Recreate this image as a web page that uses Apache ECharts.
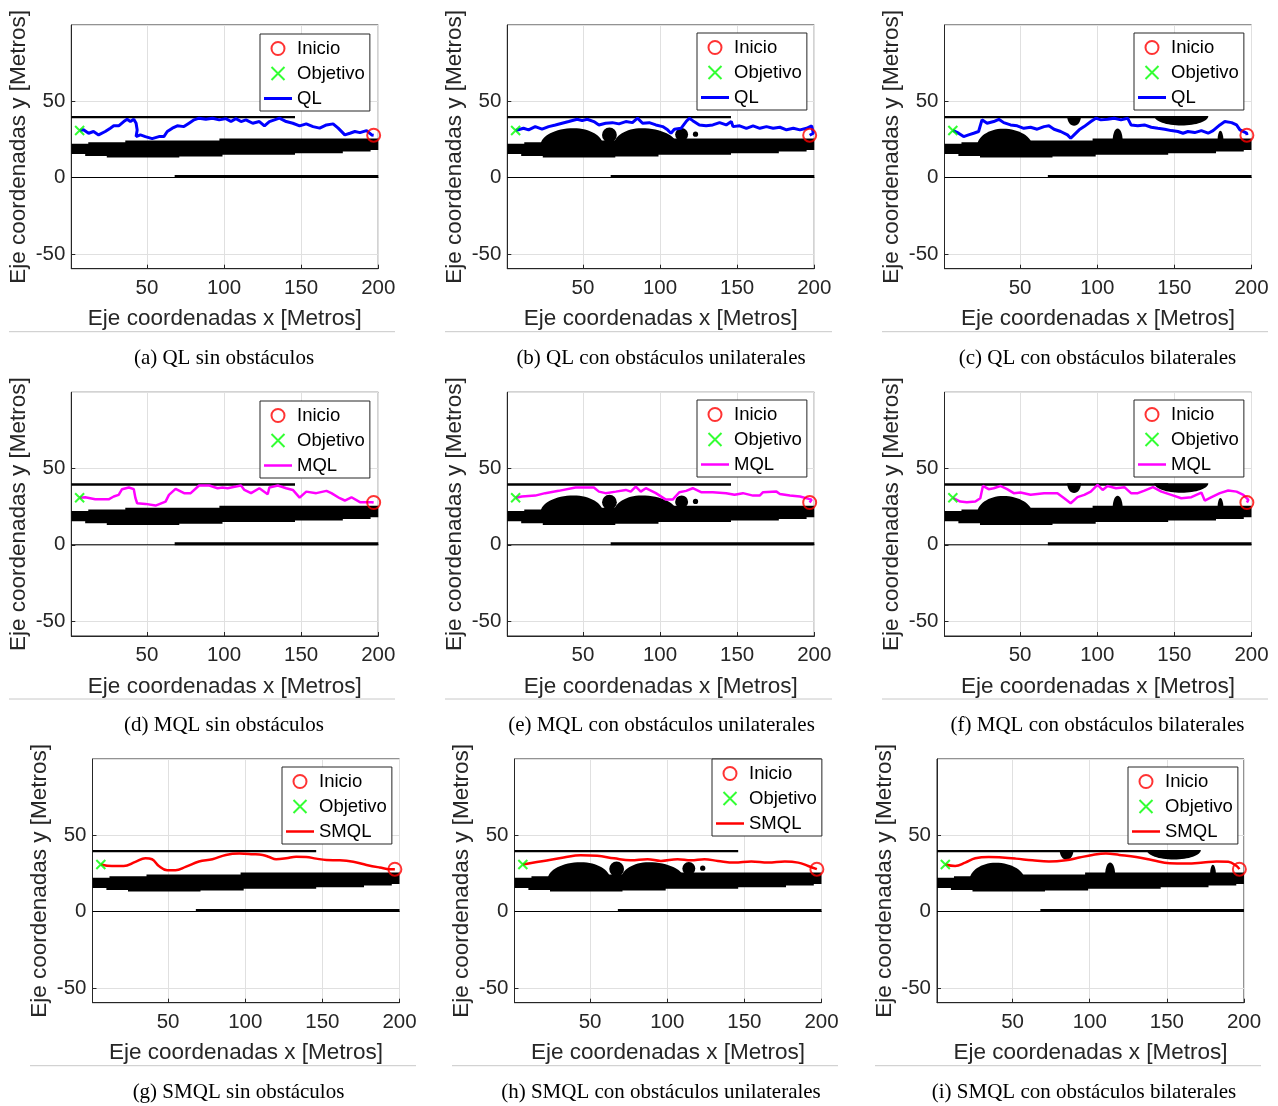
<!DOCTYPE html>
<html>
<head>
<meta charset="utf-8">
<script src="https://cdn.jsdelivr.net/npm/echarts@6/dist/echarts.min.js"></script>
<style>
  * { margin: 0; padding: 0; }
  body { background: #fff; }
</style>
</head>
<body>
<div id="main" style="width:1278px;height:1106px;"></div>
<script>
// rango de los ejes y paso de las marcas
const X_RANGE = [1, 200];
const Y_RANGE = [-59.5, 99.5];
const TICK_STEP = 50;

// inicio (circulo rojo) y objetivo (x verde)
const INICIO = [197, 27.6];
const OBJETIVO = [6.4, 30.7];

// mapa base: paredes [x1, x2, y1, y2]
const WALLS = [[1, 146, 38.6, 40.2], [68, 200, -0.3, 1.7], [1, 200, -0.3, 0.35]];
// franja negra inferior (borde superior e inferior)
const BAND_TOP = [[1, 22], [12, 22], [12, 23], [36, 23], [36, 24.1], [97, 24.1], [97, 25.5], [200, 25.5]];
const BAND_BOTTOM = [[1, 15.4], [10, 15.4], [10, 14.1], [24, 14.1], [24, 13], [71, 13], [71, 13.7], [99, 13.7],
  [99, 14.8], [146, 14.8], [146, 15.9], [177, 15.9], [177, 16.9], [195, 16.9], [195, 18], [200, 18]];
// obstaculos unilaterales: bultos [x1, xpico, x2, ybase, ypico] y discos [cx, cy, r]
const BUMPS_UNI = [[22.5, 44, 63, 21, 32.2], [70, 88, 111, 21, 32.2]];
const DISCS_UNI = [[67.2, 27.8, 4.8], [114, 28, 4.2], [123, 28.3, 1.7]];
// obstaculos bilaterales (los dos ultimos cuelgan de la pared superior)
const BUMPS_BI = [[22, 39, 58, 20, 31.8], [110, 113.2, 116.5, 24, 32], [178, 179.8, 181.8, 24, 30.5],
  [80.5, 85, 89.5, 40.2, 33.8], [137, 154.5, 172, 40.2, 34]];

// trayectorias
const QL_SIN = [[6.4,30.7],[8.9,31.1],[12.2,28.9],[15.4,30],[18.7,27.8],[23,30],[26.3,32.2],[28.5,33.7],[31.7,33.7],
  [35,36.5],[37.2,38],[39.3,36.5],[41.5,38],[43,35.4],[43.7,31],[43,26.7],[45.8,27.8],[49,26.7],[53.4,25.4],
  [57.8,26.7],[61,26.7],[63.2,30],[66.5,32.2],[69.7,33.7],[74,33.2],[77.3,35.4],[80.6,37.6],[83.8,38.7],[88.2,38],
  [92.5,38.7],[96.9,37.6],[101.2,38.4],[104.5,36.5],[107.7,38.4],[111,36.5],[114.2,37.6],[118.6,35.4],[122.9,36.5],
  [126.2,33.7],[129.4,36.5],[132.7,37.6],[135.9,38.7],[140.3,36.5],[144.6,35.4],[149,33.7],[153.3,35],[157.7,33.2],
  [162,32.2],[166.4,34.3],[170.7,35],[174,32.2],[178.3,27.8],[181.6,28.9],[184.8,30],[188.1,29.3],[192.4,30.6],
  [195.7,27.8],[197,27.6]];
const QL_UNI = [[6.4,30.7],[7.2,30],[11.5,32.1],[14.8,31.1],[19.1,33.2],[23.5,31.5],[27.8,33.2],[32.2,34.3],[36.5,35.4],
  [40.8,36.5],[46.3,38],[49.5,37.1],[52.8,38],[57.1,36.5],[60.4,34.3],[64.7,35.4],[69.1,35.8],[73.4,35],[77.8,36.5],
  [82.1,35.8],[85.4,38.7],[88.7,35.4],[93,35.8],[97.3,34.3],[101.7,33.2],[104.9,31.1],[107.1,28.9],[109.3,31.5],
  [113.6,32.1],[116.9,36.5],[119,38.7],[121.2,37.1],[125.5,34.3],[129.9,33.7],[134.2,34.3],[138.6,35.8],[142.9,34.3],
  [146.2,36.5],[147.3,33.2],[151.6,33.7],[156,32.1],[160.3,33.7],[164.7,32.1],[169,33.2],[173.3,32.1],[177.7,32.8],
  [182,31.1],[186.4,32.1],[190.7,31.1],[195,32.1],[198.3,33.7],[199.4,28.9],[197,27.6]];
const QL_BI = [[6.4,30.7],[6.8,30.6],[10.1,28.9],[13.4,26.7],[16.6,27.8],[19.9,28.9],[23.1,30],[25.3,37.6],[28.6,35.4],
  [32.9,36.5],[36.2,38],[39.4,35.8],[43.8,34.3],[48.1,33.7],[52.4,32.1],[56.8,32.8],[61.1,31.5],[65.5,33.2],[68.7,33.7],
  [72,31.5],[76.3,30],[80.7,27.8],[82.8,25.6],[85,27.8],[88.3,31.1],[91.5,33.2],[95.9,36.5],[99.1,38.7],[102.4,37.6],
  [106.7,38],[111,38.7],[115.4,37.6],[119.7,38.7],[121.9,34.3],[126.3,33.7],[130.6,34.3],[135,32.8],[139.3,32.1],
  [143.7,31.5],[148,30.6],[152.3,30],[155.6,28.9],[158.8,30],[163.2,29.3],[167.5,30.6],[171.9,28.9],[175.1,30.6],
  [179.5,34.3],[182.7,36.5],[187.1,35.8],[190.3,34.3],[192.5,31.1],[196.9,28.9],[197,27.6]];
const MQL_SIN = [[6.4,30.7],[10,31],[16.5,29.7],[25.2,29.7],[28.5,31.5],[31.7,32.6],[33.9,36.3],[38.3,37.4],[41.5,36.3],
  [42.6,30.4],[43.7,27.1],[49.1,26.7],[55.6,25.6],[62.1,28.2],[64.3,32.6],[68.6,36.5],[74.1,33.7],[78.4,33.7],
  [83.8,38.7],[90.5,38.7],[95.8,36.9],[99,37.4],[102.3,36.9],[107.7,38],[111,38.7],[113.2,35.8],[117.5,33.7],
  [122.9,36.9],[128.3,33],[129.4,37.4],[134.9,38.7],[140.3,36.9],[144.6,35.8],[149,30.8],[153.3,34.7],[159.8,33.7],
  [166.4,35.2],[169.6,33.7],[175,30.4],[178.3,28.9],[182.6,31],[188.1,27.8],[195.7,27.8],[197,27.6]];
const MQL_UNI = [[6.4,30.7],[10.4,31.5],[19.1,32.1],[25.6,33.7],[34.3,35.2],[45.2,37.4],[57.1,37.4],[60.4,34.7],
  [64.7,33.7],[71.3,34.7],[77.8,35.8],[81,34.7],[84.3,38],[87.5,34.7],[90.8,36.9],[97.3,33.7],[103.8,29.5],
  [108.2,29.5],[112.5,34.3],[116.9,35.2],[121.2,36.9],[126.6,34.3],[134.2,34.3],[142.9,33.7],[148.3,32.6],
  [153.7,33.7],[160.3,32.1],[164.6,32.1],[166.8,34.3],[175.5,34.7],[177.7,33.2],[184.2,32.1],[190.7,31.5],
  [198.3,29.5],[197,27.6]];
const MQL_BI = [[6.4,30.7],[6.8,31.1],[11.2,28.2],[15.5,27.8],[21,28.2],[24.2,30.4],[25.9,38.4],[29.6,36.3],[32.9,36.9],
  [37.2,38.4],[41.6,36.3],[45.9,33.7],[50.3,34.1],[56.8,32.6],[65.5,33.7],[74.2,33.7],[78.6,30.4],[82.8,27.1],
  [87.2,31.1],[91.6,32.6],[95.8,34.7],[100.2,39.1],[103.5,35.8],[106.7,38.4],[112.2,36.9],[117.6,37.6],[121.9,33.7],
  [126.3,33.7],[130.6,35.4],[136.1,37.6],[141.6,34.7],[148,32.6],[154.5,30.4],[161,31.1],[167.5,34.1],[169.7,28.9],
  [174.1,31.1],[179.5,33.7],[184.9,35.4],[190.3,34.7],[194.7,32.6],[198,29.3],[197,27.6]];
const SMQL_SIN = [[6.4,30.7],[13.6,29.7],[21.2,29.7],[28.8,32.4],[35.3,34.7],[39.6,34.1],[44,29.7],[49.4,26.9],
  [54.8,26.9],[61.3,29.1],[70,32.6],[78.7,34.1],[87.4,36.9],[96.1,37.8],[104.8,37.4],[111.3,36.9],[115.6,35.6],
  [120,34.1],[126.5,34.7],[133,35.8],[139.5,35.6],[146,34.5],[152.6,33.6],[161.3,33.4],[170,32.4],[178.6,30.4],
  [187.3,28.7],[193.8,27.6],[197,27.6]];
const SMQL_UNI = [[6.4,30.7],[19.9,33],[32.9,35.2],[43.8,36.7],[54.6,36.3],[65.5,34.7],[76.3,33.4],[87.2,34.1],
  [95.9,33],[106.7,34.1],[115.4,33.4],[124.1,34.1],[132.8,33],[143.6,31.9],[154.5,32.6],[165.4,31.9],[176.2,32.6],
  [184.9,31.9],[191.4,29.7],[197,27.6]];
const SMQL_BI = [[6.4,30.7],[12.8,29.7],[19.3,31.9],[25.8,34.7],[34.5,35.6],[43.2,35.2],[51.9,34.5],[62.8,33.4],
  [73.6,32.6],[84.5,33.4],[93.2,35.2],[101.8,36.9],[110.5,37.8],[119.2,36.9],[130.1,35.6],[140.9,33.4],[151.8,31.5],
  [162.6,31.3],[173.5,31.9],[182.2,32.6],[189.8,32.4],[195.2,29.7],[197,27.6]];

const METHOD_COLOR = { QL: '#0000ff', MQL: '#ff00ff', SMQL: '#ff0000' };
const METHOD_WIDTH = { QL: 3, MQL: 2.5, SMQL: 2.5 };

// disposicion de los 9 paneles
const PANELS = [
  { m: 'QL', path: QL_SIN, map: 'sin', left: 71.3, top: 25, lx: 260, ly: 34, cap: '(a) QL sin obstáculos', cx: 224, sep: [9, 395] },
  { m: 'QL', path: QL_UNI, map: 'uni', left: 507.3, top: 25, lx: 697, ly: 33, cap: '(b) QL con obstáculos unilaterales', cx: 661, sep: [445, 832] },
  { m: 'QL', path: QL_BI, map: 'bi', left: 944.5, top: 25, lx: 1134, ly: 33, cap: '(c) QL con obstáculos bilaterales', cx: 1097.5, sep: [882, 1268] },
  { m: 'MQL', path: MQL_SIN, map: 'sin', left: 71.3, top: 392.3, lx: 260, ly: 401, cap: '(d) MQL sin obstáculos', cx: 224, sep: [9, 395] },
  { m: 'MQL', path: MQL_UNI, map: 'uni', left: 507.3, top: 392.3, lx: 697, ly: 400, cap: '(e) MQL con obstáculos unilaterales', cx: 661.5, sep: [445, 832] },
  { m: 'MQL', path: MQL_BI, map: 'bi', left: 944.5, top: 392.3, lx: 1134, ly: 400, cap: '(f) MQL con obstáculos bilaterales', cx: 1097.5, sep: [882, 1268] },
  { m: 'SMQL', path: SMQL_SIN, map: 'sin', left: 92.5, top: 759, lx: 282, ly: 767, cap: '(g) SMQL sin obstáculos', cx: 238.5, sep: [30, 416] },
  { m: 'SMQL', path: SMQL_UNI, map: 'uni', left: 514.5, top: 759, lx: 712, ly: 759, cap: '(h) SMQL con obstáculos unilaterales', cx: 661, sep: [452, 838] },
  { m: 'SMQL', path: SMQL_BI, map: 'bi', left: 937, top: 759, lx: 1128, ly: 767, cap: '(i) SMQL con obstáculos bilaterales', cx: 1084, sep: [875, 1261] }
];
const PLOT_W = 307, PLOT_H = 243.7;

function shapesFor(map) {
  const list = WALLS.map(v => ({ t: 'rect', v }));
  list.push({ t: 'band' });
  if (map === 'uni') {
    BUMPS_UNI.forEach(v => list.push({ t: 'bump', v }));
    DISCS_UNI.forEach(v => list.push({ t: 'disc', v }));
  }
  if (map === 'bi') BUMPS_BI.forEach(v => list.push({ t: 'bump', v }));
  return list;
}

function renderShape(s, api) {
  const style = { fill: '#000' };
  if (s.t === 'rect') {
    const a = api.coord([s.v[0], s.v[3]]), b = api.coord([s.v[1], s.v[2]]);
    return { type: 'rect', shape: { x: a[0], y: a[1], width: b[0] - a[0], height: b[1] - a[1] }, style };
  }
  if (s.t === 'band') {
    const pts = BAND_TOP.map(p => api.coord(p)).concat(BAND_BOTTOM.slice().reverse().map(p => api.coord(p)));
    return { type: 'polygon', shape: { points: pts }, style };
  }
  if (s.t === 'disc') {
    const c = api.coord([s.v[0], s.v[1]]);
    return { type: 'circle', shape: { cx: c[0], cy: c[1], r: api.size([s.v[2], 0])[0] }, style };
  }
  const v = s.v, k = 0.5523;
  const p1 = api.coord([v[0], v[3]]), pp = api.coord([v[1], v[4]]), p2 = api.coord([v[2], v[3]]);
  const d = 'M' + p1[0] + ',' + p1[1] +
    ' C' + p1[0] + ',' + (p1[1] + k * (pp[1] - p1[1])) + ' ' + (pp[0] - k * (pp[0] - p1[0])) + ',' + pp[1] + ' ' + pp[0] + ',' + pp[1] +
    ' C' + (pp[0] + k * (p2[0] - pp[0])) + ',' + pp[1] + ' ' + p2[0] + ',' + (p2[1] + k * (pp[1] - p2[1])) + ' ' + p2[0] + ',' + p2[1] + ' Z';
  return {
    type: 'path',
    shape: { pathData: d, x: p1[0], y: Math.min(p1[1], pp[1]), width: p2[0] - p1[0], height: Math.abs(pp[1] - p1[1]), layout: 'cover' },
    style
  };
}

const FONT = 'Liberation Sans';
const AX = '#262626';
const grids = [], xAxes = [], yAxes = [], series = [], legends = [], graphics = [];

PANELS.forEach((p, i) => {
  grids.push({ left: p.left, top: p.top, width: PLOT_W, height: PLOT_H, show: true, borderColor: AX, borderWidth: 1, backgroundColor: '#fff' });
  xAxes.push({
    gridIndex: i, type: 'value', min: X_RANGE[0], max: X_RANGE[1], minInterval: TICK_STEP, maxInterval: TICK_STEP,
    name: 'Eje coordenadas x [Metros]', nameLocation: 'middle', nameGap: 39,
    nameTextStyle: { fontSize: 22.5, fontFamily: FONT, color: AX },
    axisLine: { onZero: false, lineStyle: { color: AX } },
    axisTick: { inside: true, length: 4, lineStyle: { color: AX } },
    axisLabel: { showMinLabel: false, margin: 9, fontSize: 20.5, fontFamily: FONT, color: AX },
    splitLine: { show: true, lineStyle: { color: '#e0e0e0' } }
  });
  yAxes.push({
    gridIndex: i, type: 'value', min: Y_RANGE[0], max: Y_RANGE[1], minInterval: TICK_STEP, maxInterval: TICK_STEP,
    name: 'Eje coordenadas y [Metros]', nameLocation: 'middle', nameRotate: 90, nameGap: 41,
    nameTextStyle: { fontSize: 22.5, fontFamily: FONT, color: AX },
    axisLine: { onZero: false, lineStyle: { color: AX } },
    axisTick: { inside: true, length: 4, lineStyle: { color: AX } },
    axisLabel: { showMinLabel: false, showMaxLabel: false, margin: 6, fontSize: 20.5, fontFamily: FONT, color: AX },
    splitLine: { show: true, lineStyle: { color: '#e0e0e0' } }
  });

  const shapes = shapesFor(p.map);
  series.push({
    type: 'custom', xAxisIndex: i, yAxisIndex: i, z: 2, silent: true,
    data: shapes.map((s, j) => [j, 0]),
    renderItem: (params, api) => renderShape(shapes[params.dataIndex], api)
  });
  series.push({
    type: 'line', name: p.m, xAxisIndex: i, yAxisIndex: i, z: 3, data: p.path,
    symbol: 'none', smooth: p.m === 'SMQL' ? 0.4 : false,
    lineStyle: { color: METHOD_COLOR[p.m], width: METHOD_WIDTH[p.m] }, itemStyle: { color: METHOD_COLOR[p.m] }
  });
  series.push({
    type: 'scatter', name: 'Inicio', xAxisIndex: i, yAxisIndex: i, z: 4, data: [INICIO],
    symbol: 'circle', symbolSize: 13,
    itemStyle: { color: 'rgba(255,255,255,0)', borderColor: '#ff0000', borderWidth: 2 }
  });
  series.push({
    type: 'scatter', name: 'Objetivo', xAxisIndex: i, yAxisIndex: i, z: 4, data: [OBJETIVO],
    symbol: 'path://M0,0L10,10M10,0L0,10', symbolSize: 9,
    itemStyle: { color: '#00ff00', borderColor: '#00ff00', borderWidth: 2 }
  });

  const lw = METHOD_WIDTH[p.m];
  legends.push({
    data: ['Inicio', 'Objetivo', { name: p.m, icon: 'path://M0,0L28,0L28,' + lw + 'L0,' + lw + 'Z' }],
    orient: 'vertical', left: p.lx, top: p.ly,
    itemWidth: 28, itemHeight: 13, itemGap: 6, padding: [5, 5, 3, 4],
    backgroundColor: '#fff', borderColor: AX, borderWidth: 1, selectedMode: false, z: 10,
    textStyle: { fontSize: 18.5, lineHeight: 19, fontFamily: FONT, color: '#000' }
  });

  const sepY = p.top + 306.7;
  graphics.push({ type: 'line', shape: { x1: p.sep[0], y1: sepY, x2: p.sep[1], y2: sepY }, style: { stroke: '#c8c8c8', lineWidth: 1 } });
  graphics.push({
    type: 'text', x: p.cx, y: p.top + 333,
    style: { text: p.cap, fill: '#000', font: '21px "Liberation Serif"', align: 'center', verticalAlign: 'middle' }
  });
});

const chart = echarts.init(document.getElementById('main'));
chart.setOption({
  animation: false,
  backgroundColor: '#fff',
  grid: grids, xAxis: xAxes, yAxis: yAxes,
  legend: legends, series: series, graphic: graphics
});
</script>
</body>
</html>
